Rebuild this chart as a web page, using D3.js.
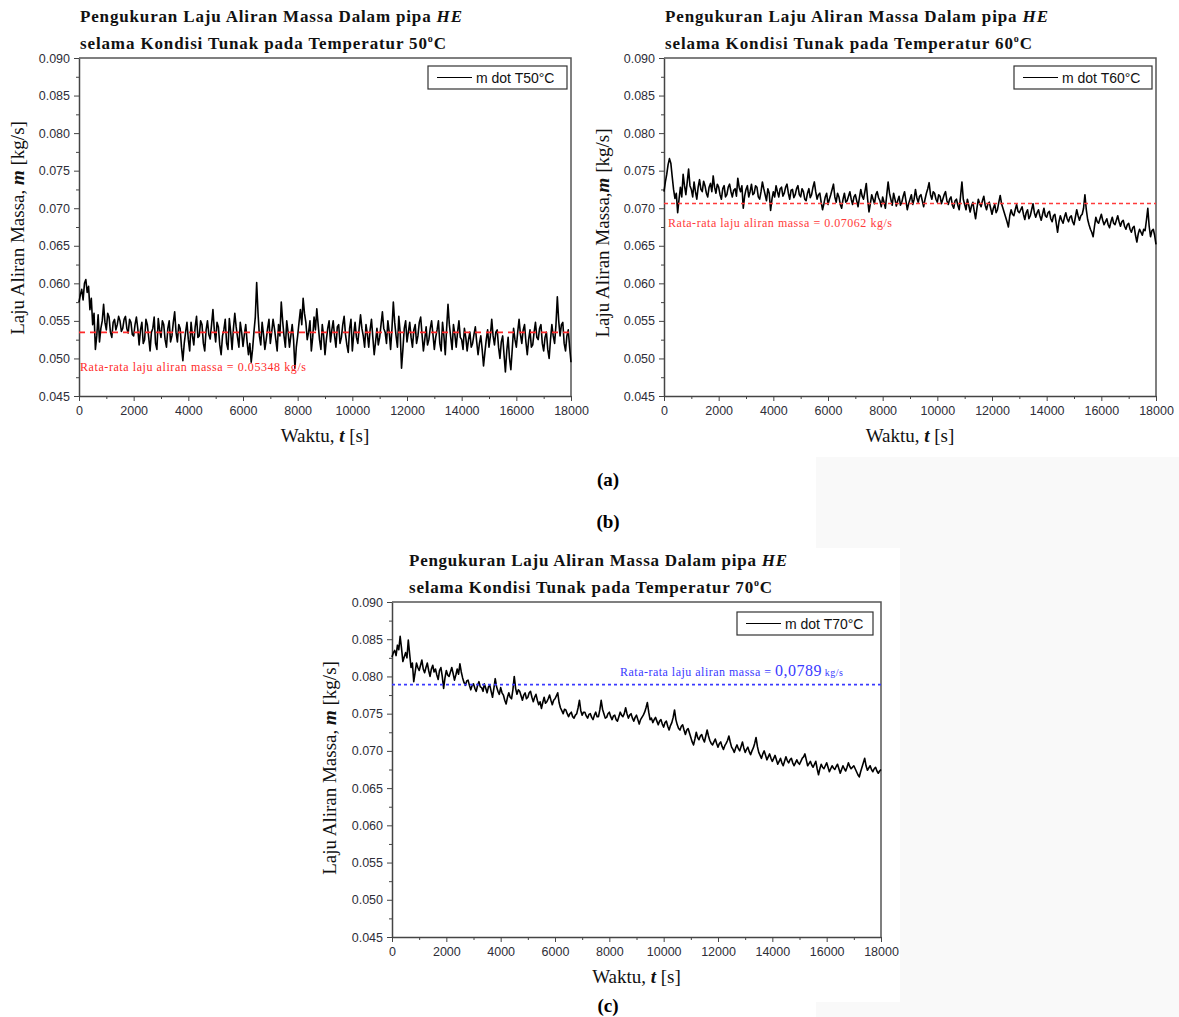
<!DOCTYPE html>
<html>
<head>
<meta charset="utf-8">
<script src="https://cdn.jsdelivr.net/npm/d3@7"></script>
<style>
  body { margin: 0; background: #fff; }
  svg { display: block; }
</style>
</head>
<body>
<script>
// sample spacing of the logged data (s)
const timeStep = 50;

const xTicks = [0, 2000, 4000, 6000, 8000, 10000, 12000, 14000, 16000, 18000];
const yTicks = [0.045, 0.050, 0.055, 0.060, 0.065, 0.070, 0.075, 0.080, 0.085, 0.090];

// mass flow rate (kg/s), one value every 50 s
const flow50 = [
  0.0575, 0.0585, 0.0592, 0.0578, 0.0600, 0.0605, 0.0588, 0.0596, 0.0565, 0.0580, 0.0545, 0.0560, 0.0512, 0.0530, 0.0558, 0.0522, 0.0540, 0.0550, 0.0572, 0.0548,
  0.0538, 0.0560, 0.0555, 0.0535, 0.0528, 0.0548, 0.0552, 0.0538, 0.0545, 0.0556, 0.0550, 0.0536, 0.0540, 0.0552, 0.0556, 0.0540, 0.0534, 0.0552, 0.0548, 0.0532,
  0.0530, 0.0545, 0.0555, 0.0540, 0.0518, 0.0538, 0.0548, 0.0520, 0.0525, 0.0552, 0.0545, 0.0528, 0.0510, 0.0535, 0.0540, 0.0555, 0.0520, 0.0512, 0.0553, 0.0538,
  0.0528, 0.0550, 0.0545, 0.0525, 0.0515, 0.0540, 0.0550, 0.0522, 0.0530, 0.0548, 0.0562, 0.0535, 0.0522, 0.0545, 0.0540, 0.0515, 0.0497, 0.0520, 0.0535, 0.0548,
  0.0525, 0.0510, 0.0548, 0.0530, 0.0518, 0.0542, 0.0556, 0.0528, 0.0530, 0.0550, 0.0545, 0.0520, 0.0510, 0.0538, 0.0550, 0.0532, 0.0526, 0.0545, 0.0565, 0.0538,
  0.0522, 0.0548, 0.0542, 0.0518, 0.0505, 0.0530, 0.0538, 0.0552, 0.0520, 0.0512, 0.0553, 0.0535, 0.0512, 0.0540, 0.0560, 0.0542, 0.0528, 0.0515, 0.0548, 0.0535,
  0.0516, 0.0532, 0.0545, 0.0522, 0.0505, 0.0520, 0.0495, 0.0512, 0.0535, 0.0555, 0.0601, 0.0560, 0.0530, 0.0518, 0.0548, 0.0532, 0.0512, 0.0525, 0.0540, 0.0552,
  0.0520, 0.0535, 0.0552, 0.0540, 0.0525, 0.0510, 0.0545, 0.0530, 0.0575, 0.0550, 0.0530, 0.0515, 0.0550, 0.0535, 0.0515, 0.0530, 0.0545, 0.0525, 0.0487, 0.0515,
  0.0530, 0.0548, 0.0565, 0.0545, 0.0580, 0.0560, 0.0548, 0.0525, 0.0535, 0.0550, 0.0510, 0.0528, 0.0555, 0.0538, 0.0566, 0.0545, 0.0525, 0.0512, 0.0545, 0.0530,
  0.0505, 0.0525, 0.0540, 0.0550, 0.0522, 0.0538, 0.0550, 0.0530, 0.0515, 0.0542, 0.0545, 0.0520, 0.0528, 0.0545, 0.0556, 0.0532, 0.0518, 0.0508, 0.0540, 0.0552,
  0.0510, 0.0532, 0.0548, 0.0528, 0.0520, 0.0540, 0.0558, 0.0540, 0.0530, 0.0515, 0.0545, 0.0532, 0.0515, 0.0538, 0.0552, 0.0528, 0.0505, 0.0522, 0.0540, 0.0518,
  0.0528, 0.0545, 0.0562, 0.0540, 0.0535, 0.0520, 0.0550, 0.0535, 0.0512, 0.0540, 0.0575, 0.0548, 0.0530, 0.0515, 0.0556, 0.0535, 0.0487, 0.0512, 0.0540, 0.0550,
  0.0522, 0.0535, 0.0548, 0.0528, 0.0515, 0.0538, 0.0545, 0.0520, 0.0530, 0.0548, 0.0555, 0.0532, 0.0510, 0.0525, 0.0542, 0.0518, 0.0525, 0.0540, 0.0550, 0.0532,
  0.0512, 0.0528, 0.0538, 0.0550, 0.0520, 0.0510, 0.0548, 0.0530, 0.0505, 0.0540, 0.0572, 0.0545, 0.0528, 0.0512, 0.0545, 0.0532, 0.0515, 0.0535, 0.0550, 0.0528,
  0.0525, 0.0512, 0.0540, 0.0528, 0.0510, 0.0525, 0.0535, 0.0515, 0.0520, 0.0532, 0.0542, 0.0522, 0.0505, 0.0520, 0.0530, 0.0512, 0.0490, 0.0508, 0.0525, 0.0538,
  0.0515, 0.0530, 0.0552, 0.0530, 0.0518, 0.0535, 0.0538, 0.0515, 0.0500, 0.0522, 0.0530, 0.0505, 0.0482, 0.0510, 0.0528, 0.0500, 0.0485, 0.0512, 0.0540, 0.0525,
  0.0515, 0.0535, 0.0552, 0.0532, 0.0520, 0.0538, 0.0545, 0.0522, 0.0505, 0.0525, 0.0538, 0.0515, 0.0518, 0.0535, 0.0548, 0.0528, 0.0525, 0.0540, 0.0545, 0.0520,
  0.0510, 0.0528, 0.0535, 0.0512, 0.0500, 0.0525, 0.0545, 0.0530, 0.0520, 0.0545, 0.0582, 0.0550, 0.0530, 0.0545, 0.0548, 0.0520, 0.0510, 0.0530, 0.0538, 0.0515,
  0.0495
];

const flow60 = [
  0.0722, 0.0735, 0.0745, 0.0758, 0.0766, 0.0760, 0.0742, 0.0725, 0.0713, 0.0720, 0.0694, 0.0712, 0.0728, 0.0715, 0.0745, 0.0730, 0.0718, 0.0735, 0.0752, 0.0730,
  0.0725, 0.0715, 0.0735, 0.0722, 0.0712, 0.0728, 0.0738, 0.0725, 0.0722, 0.0736, 0.0730, 0.0720, 0.0715, 0.0728, 0.0733, 0.0722, 0.0743, 0.0728, 0.0720, 0.0732,
  0.0728, 0.0718, 0.0712, 0.0726, 0.0730, 0.0715, 0.0718, 0.0728, 0.0732, 0.0722, 0.0715, 0.0724, 0.0726, 0.0716, 0.0740, 0.0728, 0.0722, 0.0730, 0.0700, 0.0716,
  0.0725, 0.0730, 0.0715, 0.0722, 0.0732, 0.0718, 0.0720, 0.0730, 0.0728, 0.0715, 0.0712, 0.0722, 0.0735, 0.0726, 0.0718, 0.0710, 0.0726, 0.0720, 0.0697, 0.0712,
  0.0722, 0.0715, 0.0730, 0.0722, 0.0715, 0.0726, 0.0728, 0.0716, 0.0720, 0.0728, 0.0732, 0.0720, 0.0712, 0.0724, 0.0725, 0.0714, 0.0718, 0.0726, 0.0730, 0.0718,
  0.0715, 0.0726, 0.0722, 0.0712, 0.0710, 0.0720, 0.0726, 0.0714, 0.0718, 0.0728, 0.0735, 0.0722, 0.0712, 0.0718, 0.0720, 0.0708, 0.0698, 0.0706, 0.0715, 0.0720,
  0.0705, 0.0712, 0.0718, 0.0725, 0.0732, 0.0715, 0.0708, 0.0720, 0.0715, 0.0705, 0.0700, 0.0712, 0.0720, 0.0708, 0.0710, 0.0716, 0.0722, 0.0712, 0.0705, 0.0715,
  0.0718, 0.0710, 0.0702, 0.0714, 0.0725, 0.0716, 0.0712, 0.0722, 0.0733, 0.0712, 0.0695, 0.0706, 0.0718, 0.0712, 0.0706, 0.0718, 0.0722, 0.0714, 0.0710, 0.0702,
  0.0715, 0.0708, 0.0700, 0.0718, 0.0735, 0.0720, 0.0712, 0.0704, 0.0720, 0.0712, 0.0703, 0.0710, 0.0716, 0.0704, 0.0708, 0.0716, 0.0722, 0.0710, 0.0698, 0.0706,
  0.0712, 0.0718, 0.0705, 0.0712, 0.0725, 0.0714, 0.0708, 0.0716, 0.0718, 0.0710, 0.0702, 0.0712, 0.0720, 0.0726, 0.0734, 0.0718, 0.0712, 0.0722, 0.0720, 0.0712,
  0.0708, 0.0718, 0.0716, 0.0706, 0.0712, 0.0718, 0.0722, 0.0710, 0.0705, 0.0712, 0.0715, 0.0704, 0.0700, 0.0710, 0.0712, 0.0704, 0.0698, 0.0716, 0.0735, 0.0712,
  0.0705, 0.0698, 0.0712, 0.0704, 0.0695, 0.0703, 0.0708, 0.0696, 0.0686, 0.0700, 0.0712, 0.0706, 0.0702, 0.0710, 0.0716, 0.0704, 0.0698, 0.0706, 0.0708, 0.0700,
  0.0692, 0.0700, 0.0705, 0.0694, 0.0698, 0.0708, 0.0717, 0.0706, 0.0700, 0.0694, 0.0688, 0.0682, 0.0675, 0.0690, 0.0698, 0.0692, 0.0690, 0.0698, 0.0705, 0.0696,
  0.0694, 0.0698, 0.0702, 0.0692, 0.0685, 0.0694, 0.0698, 0.0686, 0.0690, 0.0698, 0.0706, 0.0694, 0.0688, 0.0694, 0.0698, 0.0690, 0.0684, 0.0692, 0.0700, 0.0690,
  0.0688, 0.0694, 0.0696, 0.0686, 0.0682, 0.0690, 0.0692, 0.0680, 0.0668, 0.0682, 0.0690, 0.0684, 0.0680, 0.0688, 0.0694, 0.0686, 0.0682, 0.0688, 0.0690, 0.0682,
  0.0678, 0.0688, 0.0698, 0.0690, 0.0684, 0.0690, 0.0692, 0.0700, 0.0718, 0.0698, 0.0685, 0.0678, 0.0672, 0.0668, 0.0662, 0.0676, 0.0688, 0.0682, 0.0680, 0.0686,
  0.0692, 0.0684, 0.0678, 0.0682, 0.0686, 0.0678, 0.0674, 0.0682, 0.0688, 0.0680, 0.0678, 0.0684, 0.0690, 0.0682, 0.0676, 0.0682, 0.0684, 0.0676, 0.0672, 0.0678,
  0.0680, 0.0672, 0.0668, 0.0674, 0.0676, 0.0664, 0.0655, 0.0666, 0.0672, 0.0668, 0.0664, 0.0672, 0.0670, 0.0684, 0.0700, 0.0676, 0.0662, 0.0670, 0.0672, 0.0664,
  0.0652
];

const flow70 = [
  0.0826, 0.0832, 0.0835, 0.0828, 0.0842, 0.0836, 0.0854, 0.0838, 0.0820, 0.0826, 0.0832, 0.0825, 0.0849, 0.0830, 0.0812, 0.0818, 0.0793, 0.0805, 0.0818, 0.0812,
  0.0808, 0.0815, 0.0822, 0.0810, 0.0805, 0.0812, 0.0818, 0.0808, 0.0800, 0.0810, 0.0815, 0.0806, 0.0810, 0.0802, 0.0796, 0.0808, 0.0812, 0.0800, 0.0784, 0.0798,
  0.0808, 0.0802, 0.0800, 0.0806, 0.0812, 0.0804, 0.0795, 0.0802, 0.0810, 0.0803, 0.0817, 0.0806, 0.0798, 0.0792, 0.0788, 0.0794, 0.0795, 0.0788, 0.0782, 0.0788,
  0.0790, 0.0784, 0.0780, 0.0788, 0.0793, 0.0786, 0.0785, 0.0780, 0.0790, 0.0784, 0.0778, 0.0786, 0.0788, 0.0780, 0.0772, 0.0784, 0.0797, 0.0786, 0.0780, 0.0776,
  0.0785, 0.0778, 0.0775, 0.0768, 0.0763, 0.0772, 0.0778, 0.0772, 0.0770, 0.0782, 0.0800, 0.0784, 0.0776, 0.0782, 0.0780, 0.0774, 0.0768, 0.0775, 0.0778, 0.0770,
  0.0772, 0.0778, 0.0780, 0.0772, 0.0766, 0.0772, 0.0776, 0.0768, 0.0762, 0.0766, 0.0757, 0.0765, 0.0772, 0.0764, 0.0766, 0.0770, 0.0775, 0.0768, 0.0762, 0.0768,
  0.0770, 0.0774, 0.0778, 0.0765, 0.0758, 0.0754, 0.0750, 0.0756, 0.0755, 0.0750, 0.0746, 0.0750, 0.0752, 0.0746, 0.0744, 0.0748, 0.0750, 0.0758, 0.0768, 0.0754,
  0.0748, 0.0752, 0.0752, 0.0747, 0.0744, 0.0749, 0.0750, 0.0745, 0.0742, 0.0748, 0.0752, 0.0746, 0.0746, 0.0755, 0.0768, 0.0756, 0.0750, 0.0744, 0.0745, 0.0750,
  0.0752, 0.0746, 0.0742, 0.0747, 0.0748, 0.0742, 0.0740, 0.0746, 0.0752, 0.0748, 0.0746, 0.0750, 0.0758, 0.0750, 0.0744, 0.0748, 0.0750, 0.0744, 0.0740, 0.0745,
  0.0748, 0.0742, 0.0736, 0.0742, 0.0745, 0.0748, 0.0752, 0.0758, 0.0765, 0.0752, 0.0742, 0.0744, 0.0738, 0.0742, 0.0745, 0.0740, 0.0735, 0.0740, 0.0742, 0.0736,
  0.0732, 0.0738, 0.0740, 0.0733, 0.0728, 0.0734, 0.0738, 0.0745, 0.0755, 0.0742, 0.0735, 0.0730, 0.0728, 0.0733, 0.0735, 0.0728, 0.0722, 0.0728, 0.0730, 0.0724,
  0.0718, 0.0712, 0.0708, 0.0716, 0.0725, 0.0718, 0.0715, 0.0720, 0.0722, 0.0716, 0.0712, 0.0720, 0.0728, 0.0720, 0.0714, 0.0710, 0.0708, 0.0712, 0.0716, 0.0710,
  0.0705, 0.0710, 0.0712, 0.0706, 0.0702, 0.0707, 0.0710, 0.0714, 0.0720, 0.0712, 0.0705, 0.0702, 0.0698, 0.0704, 0.0708, 0.0703, 0.0700, 0.0706, 0.0712, 0.0704,
  0.0698, 0.0702, 0.0705, 0.0699, 0.0695, 0.0700, 0.0704, 0.0710, 0.0718, 0.0706, 0.0698, 0.0694, 0.0690, 0.0696, 0.0700, 0.0694, 0.0688, 0.0692, 0.0696, 0.0690,
  0.0686, 0.0690, 0.0694, 0.0688, 0.0682, 0.0686, 0.0690, 0.0684, 0.0680, 0.0686, 0.0692, 0.0687, 0.0684, 0.0688, 0.0690, 0.0684, 0.0680, 0.0684, 0.0688, 0.0684,
  0.0682, 0.0686, 0.0690, 0.0692, 0.0696, 0.0688, 0.0680, 0.0683, 0.0686, 0.0681, 0.0678, 0.0682, 0.0686, 0.0676, 0.0668, 0.0676, 0.0682, 0.0678, 0.0676, 0.0680,
  0.0684, 0.0678, 0.0672, 0.0676, 0.0680, 0.0677, 0.0675, 0.0679, 0.0682, 0.0676, 0.0670, 0.0675, 0.0680, 0.0676, 0.0673, 0.0678, 0.0684, 0.0679, 0.0676, 0.0678,
  0.0680, 0.0676, 0.0672, 0.0668, 0.0665, 0.0672, 0.0678, 0.0684, 0.0690, 0.0680, 0.0674, 0.0677, 0.0680, 0.0675, 0.0672, 0.0676, 0.0678, 0.0673, 0.0670, 0.0673,
  0.0675
];

const means = [0.05348, 0.07062, 0.0789];
const temps = ['50', '60', '70'];
const legendLabels = ['m dot T50°C', 'm dot T60°C', 'm dot T70°C'];

const serif = '"Liberation Serif", "DejaVu Serif", serif';
const sans = '"Liberation Sans", Arial, sans-serif';

const svg = d3.select('body').append('svg')
  .attr('width', 1179)
  .attr('height', 1017);

// faint grey page patch behind the lower figure
svg.append('rect').attr('x', 816).attr('y', 457).attr('width', 363).attr('height', 560).attr('fill', '#f9f9f9');
svg.append('rect').attr('x', 322).attr('y', 548).attr('width', 578).attr('height', 454).attr('fill', '#fff');

function drawPanel(p) {
  const g = svg.append('g');
  const x = d3.scaleLinear().domain([0, 18000]).range([p.left, p.right]);
  const y = d3.scaleLinear().domain([0.045, 0.090]).range([p.bottom, p.top]);

  // title, two lines
  const t1 = g.append('text')
    .attr('x', p.titleX).attr('y', p.top - 36)
    .attr('font-family', serif).attr('font-size', 17).attr('font-weight', 'bold')
    .attr('fill', '#111')
    .attr('textLength', p.titleW[0]).attr('lengthAdjust', 'spacing');
  t1.append('tspan').text('Pengukuran Laju Aliran Massa Dalam pipa ');
  t1.append('tspan').attr('font-style', 'italic').text('HE');

  const t2 = g.append('text')
    .attr('x', p.titleX).attr('y', p.top - 9)
    .attr('font-family', serif).attr('font-size', 17).attr('font-weight', 'bold')
    .attr('fill', '#111')
    .attr('textLength', p.titleW[1]).attr('lengthAdjust', 'spacing');
  t2.append('tspan').text('selama Kondisi Tunak pada Temperatur ' + p.temp);
  t2.append('tspan').attr('font-size', 10).attr('dy', -7).text('o');
  t2.append('tspan').attr('dy', 7).text('C');

  // minor ticks
  const yMinor = d3.range(0.0475, 0.090, 0.005);
  const xMinor = d3.range(1000, 18000, 2000);
  g.append('g').attr('transform', `translate(${p.left},0)`)
    .call(d3.axisLeft(y).tickValues(yMinor).tickFormat('').tickSize(3).tickSizeOuter(0))
    .call(a => a.select('.domain').remove())
    .selectAll('line').attr('stroke', '#444');
  g.append('g').attr('transform', `translate(0,${p.bottom})`)
    .call(d3.axisBottom(x).tickValues(xMinor).tickFormat('').tickSize(3).tickSizeOuter(0))
    .call(a => a.select('.domain').remove())
    .selectAll('line').attr('stroke', '#444');

  // major axes
  const ya = g.append('g').attr('transform', `translate(${p.left},0)`)
    .call(d3.axisLeft(y).tickValues(yTicks).tickFormat(d3.format('.3f')).tickSize(5).tickSizeOuter(0).tickPadding(4));
  const xa = g.append('g').attr('transform', `translate(0,${p.bottom})`)
    .call(d3.axisBottom(x).tickValues(xTicks).tickFormat(d3.format('d')).tickSize(5).tickSizeOuter(0).tickPadding(5));
  [ya, xa].forEach(a => {
    a.selectAll('text').attr('font-family', sans).attr('font-size', 12.5).attr('fill', '#2e2e38');
    a.selectAll('line').attr('stroke', '#444');
    a.select('.domain').attr('stroke', '#444').attr('stroke-width', 1.5);
  });

  // top and right frame
  g.append('path')
    .attr('d', `M${p.left},${p.top}H${p.right}V${p.bottom}`)
    .attr('fill', 'none').attr('stroke', '#555').attr('stroke-width', 1.5);

  // measured trace
  const line = d3.line()
    .x((d, i) => x(i * timeStep))
    .y(d => y(d));
  g.append('path')
    .datum(p.data)
    .attr('d', line)
    .attr('fill', 'none').attr('stroke', '#000').attr('stroke-width', 1.6)
    .attr('stroke-linejoin', 'round');

  // average line
  g.append('line')
    .attr('x1', x(0)).attr('x2', x(18000))
    .attr('y1', y(p.mean)).attr('y2', y(p.mean))
    .attr('stroke', p.meanColor).attr('stroke-width', p.meanWidth)
    .attr('stroke-dasharray', p.dash);

  const ml = g.append('text')
    .attr('x', p.meanLabel[0]).attr('y', p.meanLabel[1])
    .attr('font-family', serif).attr('font-size', 12).attr('fill', p.meanColor)
    .attr('textLength', p.meanLabel[2]).attr('lengthAdjust', 'spacing');
  if (p.temp === '70') {
    ml.append('tspan').text('Rata-rata laju aliran massa = ');
    ml.append('tspan').attr('font-size', 16).text('0,0789');
    ml.append('tspan').attr('font-size', 10).text(' kg/s');
  } else {
    ml.text('Rata-rata laju aliran massa = ' + d3.format('.5f')(p.mean) + ' kg/s');
  }

  // legend
  const lg = g.append('g').attr('transform', `translate(${p.legend[0]},${p.legend[1]})`);
  lg.append('rect').attr('width', p.legend[2]).attr('height', 23)
    .attr('fill', '#fff').attr('stroke', '#333').attr('stroke-width', 1.2);
  lg.append('line').attr('x1', 9).attr('x2', 44).attr('y1', 11.5).attr('y2', 11.5)
    .attr('stroke', '#000').attr('stroke-width', 1.2);
  lg.append('text').attr('x', 48).attr('y', 16.5)
    .attr('font-family', sans).attr('font-size', 14).attr('fill', '#111')
    .text(p.legendLabel);

  // axis titles
  const xt = g.append('text')
    .attr('x', (p.left + p.right) / 2).attr('y', p.bottom + 46)
    .attr('text-anchor', 'middle')
    .attr('font-family', serif).attr('font-size', 19).attr('fill', '#111');
  xt.append('tspan').text('Waktu, ');
  xt.append('tspan').attr('font-weight', 'bold').attr('font-style', 'italic').text('t');
  xt.append('tspan').text(' [s]');

  const yt = g.append('text')
    .attr('transform', `translate(${p.yTitle[0]},${p.yTitle[1]}) rotate(-90)`)
    .attr('text-anchor', 'middle')
    .attr('font-family', serif).attr('font-size', 19).attr('fill', '#111');
  yt.append('tspan').text(p.temp === '60' ? 'Laju Aliran Massa,' : 'Laju Aliran Massa, ');
  yt.append('tspan').attr('font-weight', 'bold').attr('font-style', 'italic').text('m');
  yt.append('tspan').text(' [kg/s]');
}

drawPanel({
  left: 79, right: 571, top: 58, bottom: 396, titleX: 80,
  data: flow50, mean: means[0], temp: temps[0], legendLabel: legendLabels[0],
  titleW: [382, 366], meanColor: '#ff2a2a', meanWidth: 1.8, dash: '6,5',
  meanLabel: [80, 371, 226], legend: [428, 66, 139], yTitle: [24, 228]
});

drawPanel({
  left: 664, right: 1156, top: 58, bottom: 396, titleX: 665,
  data: flow60, mean: means[1], temp: temps[1], legendLabel: legendLabels[1],
  titleW: [383, 367], meanColor: '#ff3b3b', meanWidth: 1.4, dash: '4,3',
  meanLabel: [668, 227, 224], legend: [1014, 66, 138], yTitle: [609, 233]
});

drawPanel({
  left: 392, right: 881, top: 602, bottom: 937, titleX: 409,
  data: flow70, mean: means[2], temp: temps[2], legendLabel: legendLabels[2],
  titleW: [378, 363], meanColor: '#3a3aff', meanWidth: 1.6, dash: '3,3',
  meanLabel: [620, 676, 223], legend: [737, 612, 136], yTitle: [336, 768]
});

// sub-figure captions
[['(a)', 486], ['(b)', 528], ['(c)', 1012]].forEach(([s, yy]) => {
  svg.append('text').attr('x', 608).attr('y', yy)
    .attr('text-anchor', 'middle')
    .attr('font-family', serif).attr('font-size', 19).attr('font-weight', 'bold')
    .attr('fill', '#000').text(s);
});
</script>
</body>
</html>
